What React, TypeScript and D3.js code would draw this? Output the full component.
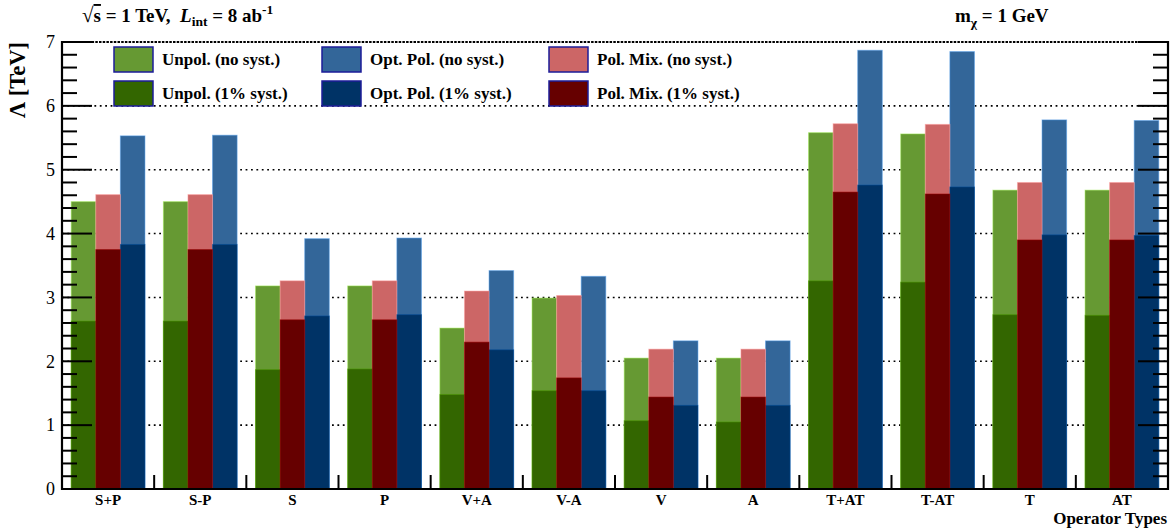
import * as d3 from "d3";

const categories = ["S+P", "S-P", "S", "P", "V+A", "V-A", "V", "A", "T+AT", "T-AT", "T", "AT"];

// Λ [TeV] per operator type
const unpolNoSyst = [4.5, 4.5, 3.18, 3.18, 2.52, 2.99, 2.05, 2.05, 5.58, 5.56, 4.68, 4.68];
const unpolSyst = [2.63, 2.63, 1.87, 1.88, 1.48, 1.54, 1.07, 1.05, 3.26, 3.24, 2.73, 2.72];
const polMixNoSyst = [4.61, 4.61, 3.26, 3.26, 3.1, 3.03, 2.19, 2.19, 5.72, 5.71, 4.8, 4.8];
const polMixSyst = [3.75, 3.75, 2.65, 2.65, 2.3, 1.74, 1.44, 1.44, 4.65, 4.62, 3.9, 3.9];
const optPolNoSyst = [5.53, 5.54, 3.92, 3.93, 3.42, 3.33, 2.32, 2.32, 6.87, 6.85, 5.78, 5.77];
const optPolSyst = [3.83, 3.83, 2.71, 2.73, 2.18, 1.54, 1.31, 1.31, 4.76, 4.73, 3.98, 3.97];

const yTicks = [0, 1, 2, 3, 4, 5, 6, 7];

const series = [
  { name: "Unpol. (no syst.)", values: unpolNoSyst, slot: 0, color: "#669933", col: 0, row: 0 },
  { name: "Opt. Pol. (no syst.)", values: optPolNoSyst, slot: 2, color: "#336699", col: 1, row: 0 },
  { name: "Pol. Mix. (no syst.)", values: polMixNoSyst, slot: 1, color: "#cc6666", col: 2, row: 0 },
  { name: "Unpol. (1% syst.)", values: unpolSyst, slot: 0, color: "#336600", col: 0, row: 1 },
  { name: "Opt. Pol. (1% syst.)", values: optPolSyst, slot: 2, color: "#003366", col: 1, row: 1 },
  { name: "Pol. Mix. (1% syst.)", values: polMixSyst, slot: 1, color: "#660000", col: 2, row: 1 },
];

const W = 1175;
const H = 529;
const left = 62;
const right = 1168;
const top = 42;
const bottom = 489;
const serif = "'Liberation Serif', 'DejaVu Serif', serif";

export default function App() {
  const x = d3.scaleBand().domain(categories).range([left, right]).paddingInner(0.2).paddingOuter(0.1);
  const sub = d3.scaleBand<number>().domain([0, 1, 2]).range([0, x.bandwidth()]);
  const y = d3.scaleLinear().domain([0, 7]).range([bottom, top]);
  const step = x.step();

  const minor = d3.range(0, 7.001, 0.2).filter((v) => Math.abs(v - Math.round(v)) > 1e-6);

  const legX = [114, 322, 549];
  const legY = [47, 81];

  return (
    <div style={{ position: "absolute", left: 0, top: 0 }}>
      <svg width={W} height={H} fontFamily={serif} style={{ display: "block", background: "#fff" }}>
        {/* grid */}
        {yTicks.slice(1).map((t) => (
          <line
            key={"g" + t}
            x1={left}
            x2={right}
            y1={y(t)}
            y2={y(t)}
            stroke="#000"
            strokeWidth={t === 7 ? 2 : 1.6}
            strokeDasharray={t === 7 ? "2.5 1.2" : "1.8 3.6"}
          />
        ))}

        {/* bars */}
        {series.map((s) =>
          s.values.map((v, i) => (
            <rect
              key={s.name + i}
              x={(x(categories[i]) ?? 0) + (sub(s.slot) ?? 0)}
              y={y(v)}
              width={sub.bandwidth()}
              height={y(0) - y(v)}
              fill={s.color}
              stroke={d3.color(s.color)!.brighter(1.2).formatHex()}
              strokeOpacity={0.5}
              strokeWidth={1}
            />
          ))
        )}

        {/* frame */}
        <line x1={left} x2={left} y1={top - 1} y2={bottom + 1} stroke="#000" strokeWidth={2.2} />
        <line x1={right} x2={right} y1={top - 1} y2={bottom + 1} stroke="#000" strokeWidth={2.2} />
        <line x1={left - 1} x2={right + 1} y1={bottom} y2={bottom} stroke="#000" strokeWidth={2.2} />

        {/* y ticks, both sides */}
        {yTicks.map((t) => (
          <g key={"yt" + t}>
            <line x1={left} x2={left + 30} y1={y(t)} y2={y(t)} stroke="#000" strokeWidth={2} />
            <line x1={right} x2={right - 30} y1={y(t)} y2={y(t)} stroke="#000" strokeWidth={2} />
            <text x={55} y={y(t)} dy="0.35em" textAnchor="end" fontSize={18}>
              {t}
            </text>
          </g>
        ))}
        {minor.map((t) => (
          <g key={"ym" + t}>
            <line x1={left} x2={left + 15} y1={y(t)} y2={y(t)} stroke="#000" strokeWidth={2} />
            <line x1={right} x2={right - 15} y1={y(t)} y2={y(t)} stroke="#000" strokeWidth={2} />
          </g>
        ))}

        {/* x category boundaries and labels */}
        {categories.slice(1).map((c, i) => (
          <line
            key={"xt" + c}
            x1={left + (i + 1) * step}
            x2={left + (i + 1) * step}
            y1={bottom}
            y2={bottom - 14}
            stroke="#000"
            strokeWidth={2}
          />
        ))}
        {categories.map((c) => (
          <text
            key={"xl" + c}
            x={(x(c) ?? 0) + x.bandwidth() / 2}
            y={505}
            textAnchor="middle"
            fontSize={15}
            fontWeight="bold"
          >
            {c}
          </text>
        ))}
        <text x={1167} y={524} textAnchor="end" fontSize={17} fontWeight="bold">
          Operator Types
        </text>

        {/* y title */}
        <text
          transform={`translate(25, ${top}) rotate(-90)`}
          textAnchor="end"
          fontSize={22.5}
          fontWeight="bold"
        >
          Λ [TeV]
        </text>

        {/* legend */}
        {series.map((s) => (
          <g key={"lg" + s.name}>
            <rect
              x={legX[s.col]}
              y={legY[s.row]}
              width={39}
              height={25}
              fill={s.color}
              stroke="#1c1c99"
              strokeWidth={1.5}
            />
            <text x={legX[s.col] + 48} y={legY[s.row] + 18} fontSize={17} fontWeight="bold">
              {s.name}
            </text>
          </g>
        ))}

        {/* header */}
        <text x={82} y={22} fontSize={19} fontWeight="bold" style={{ whiteSpace: "pre" }}>
          <tspan fontSize={21}>√</tspan>
          <tspan textDecoration="overline">s</tspan>
          <tspan>{" = 1 TeV,  "}</tspan>
          <tspan fontStyle="italic">L</tspan>
          <tspan dy={4} fontSize={13.5}>
            int
          </tspan>
          <tspan dy={-4}>{" = 8 ab"}</tspan>
          <tspan dy={-8} fontSize={13.5}>
            -1
          </tspan>
        </text>
        <text x={955} y={22} fontSize={19} fontWeight="bold" style={{ whiteSpace: "pre" }}>
          <tspan>m</tspan>
          <tspan dy={5} fontSize={13.5}>
            χ
          </tspan>
          <tspan dy={-5}>{" = 1 GeV"}</tspan>
        </text>
      </svg>
    </div>
  );
}
